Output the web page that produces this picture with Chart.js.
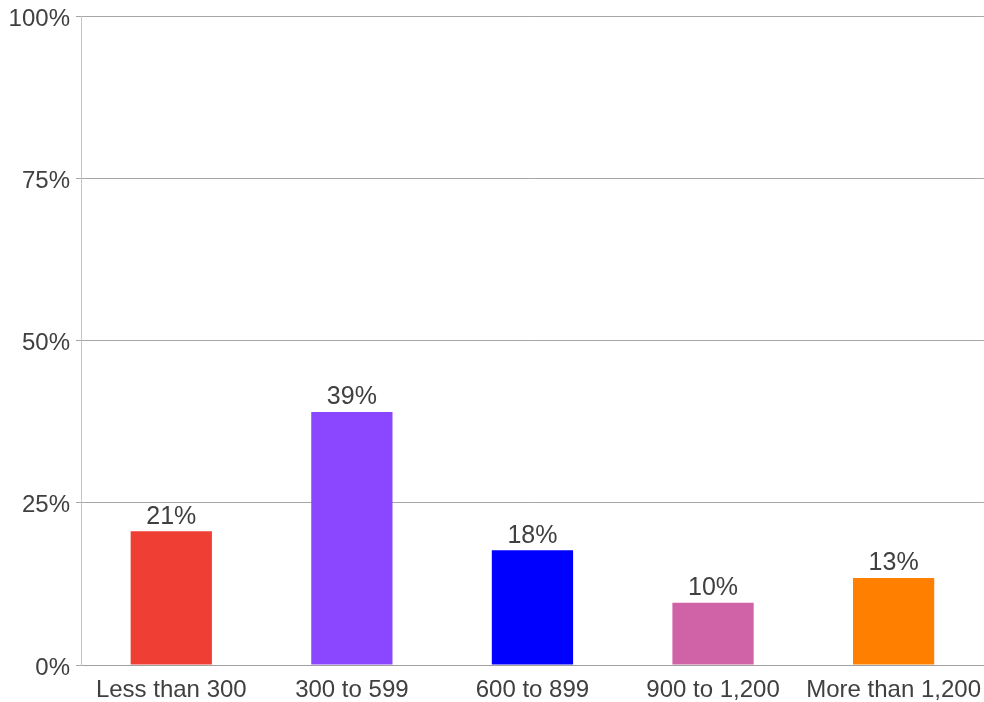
<!DOCTYPE html>
<html><head><meta charset="utf-8">
<script src="https://cdn.jsdelivr.net/npm/chart.js@4"></script>
<style>html,body{margin:0;padding:0;background:#fff}#w{width:984px;height:702px}</style>
</head><body><div id="w"><canvas id="c"></canvas></div>
<script>
const categories = ["Less than 300","300 to 599","600 to 899","900 to 1,200","More than 1,200"];
const values = [20.6, 39.0, 17.7, 9.6, 13.4];
const valueLabels = ["21%","39%","18%","10%","13%"];
const barColors = ["#EF3E33","#8B47FF","#0000FF","#D063A8","#FF8000"];
const yTicks = [0,25,50,75,100];

const FONT = '"Liberation Sans", Arial, sans-serif';
const labelPlugin = {
  id:'vals',
  afterDatasetsDraw(chart){
    const ctx = chart.ctx;
    const meta = chart.getDatasetMeta(0);
    ctx.save();
    ctx.font = '25px ' + FONT;
    ctx.fillStyle = '#404040';
    ctx.textAlign = 'center';
    ctx.textBaseline = 'bottom';
    meta.data.forEach((b,i)=>{ ctx.fillText(valueLabels[i], b.x, b.y - 2); });
    ctx.restore();
  }
};

new Chart(document.getElementById('c'), {
  type:'bar',
  data:{labels:categories, datasets:[{data:values, backgroundColor:barColors, barPercentage:0.45, categoryPercentage:1}]},
  options:{
    responsive:true, maintainAspectRatio:false, animation:false,
    layout:{padding:{top:0,right:0,left:0,bottom:0}},
    plugins:{legend:{display:false}, tooltip:{enabled:false}},
    scales:{
      x:{
        grid:{display:false},
        border:{display:true,color:'#a0a0a0'},
        ticks:{color:'#404040', font:{family:FONT, size:24}, maxRotation:0, padding:3},
        afterFit(s){ s.height = 37; }
      },
      y:{
        min:0, max:100,
        afterBuildTicks(s){ s.ticks = yTicks.map(v=>({value:v})); },
        grid:{color:'#a6a6a6', tickLength:5, drawTicks:true},
        border:{display:true,color:'#c4c4c4'},
        ticks:{color:'#404040', font:{family:FONT, size:24}, padding:6, labelOffset:3, callback:v=>v+'%'},
        afterFit(s){ s.width = 81; s.paddingTop = 16; s.paddingBottom = 0; }
      }
    }
  },
  plugins:[labelPlugin]
});
</script></body></html>
